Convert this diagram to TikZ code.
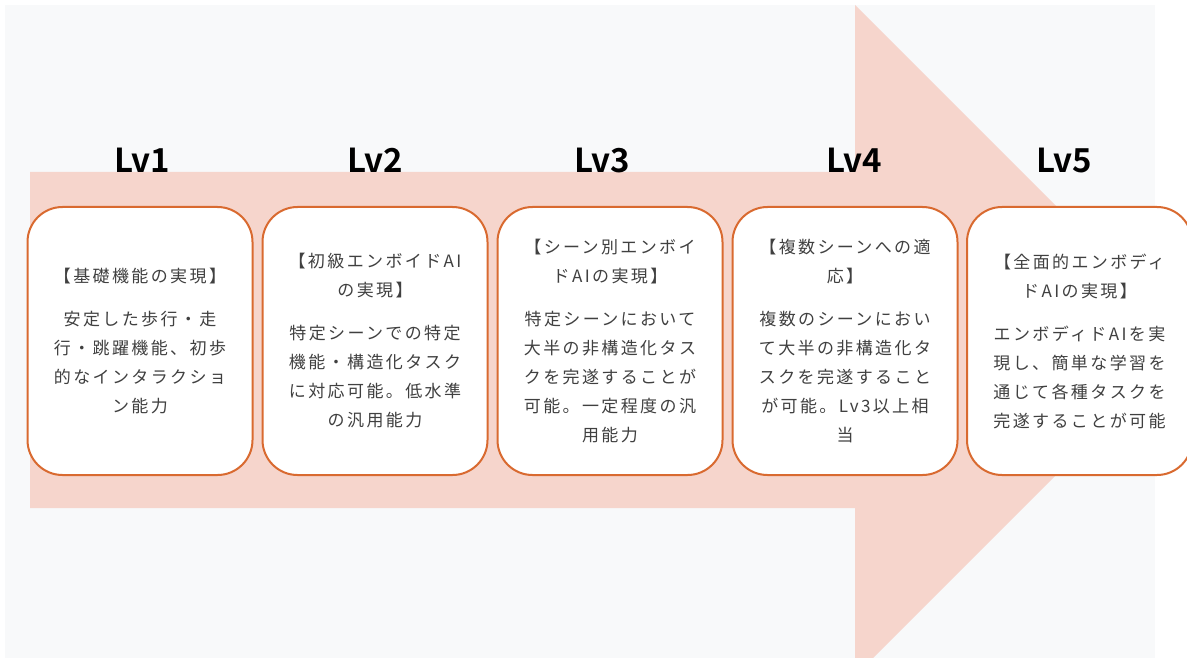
\documentclass[tikz,border=0pt]{standalone}
\usepackage{fontspec}
\setmainfont{Noto Sans CJK JP}[LetterSpace=14]
\newfontfamily\lvfont{Noto Sans CJK JP Bold}
\definecolor{bgpage}{RGB}{248,249,250}
\definecolor{arrowfill}{RGB}{246,213,204}
\definecolor{boxline}{RGB}{217,106,48}
\definecolor{bodytext}{RGB}{64,64,64}
\tikzset{lvbox/.style = {draw=boxline, line width=2pt, fill=white, rounded corners=35pt,
    minimum width=225pt, minimum height=268pt, inner sep=0pt, align=center,
    text=bodytext, font=\fontsize{17}{29}\selectfont},
  lvlabel/.style = {anchor=base, font=\lvfont\fontsize{33}{36}\selectfont}}

\begin{document}
\begin{tikzpicture}[x=1pt, y=-1pt]
      \useasboundingbox (0,0) rectangle (1187,658);
      \clip (0,0) rectangle (1187,658);
      \fill[bgpage] (5,5) rectangle (1155,658);
      % the big arrow behind the boxes
      \fill[arrowfill] (30,172) -- (855,172) -- (855,5) -- (1190.5,340.5)
        -- (855,676) -- (855,508) -- (30,508) -- cycle;
      \node[lvlabel] (lv1) at (142,173) {Lv1};
      \node[lvlabel] (lv2) at (375,173) {Lv2};
      \node[lvlabel] (lv3) at (602,173) {Lv3};
      \node[lvlabel] (lv4) at (854,173) {Lv4};
      \node[lvlabel] (lv5) at (1064,173) {Lv5};
      \node[lvbox] (b1) at (140,341) {【基礎機能の実現】\\[14pt]
        安定した歩行・走\\行・跳躍機能、初歩\\的なインタラクショ\\ン能力};
      \node[lvbox] (b2) at (375,341) {【初級エンボイドAI\\の実現】\\[14pt]
        特定シーンでの特定\\機能・構造化タスク\\に対応可能。低水準\\の汎用能力};
      \node[lvbox] (b3) at (610,341) {【シーン別エンボイ\\ドAIの実現】\\[14pt]
        特定シーンにおいて\\大半の非構造化タス\\クを完遂することが\\可能。一定程度の汎\\用能力};
      \node[lvbox] (b4) at (845,341) {【複数シーンへの適\\応】\\[14pt]
        複数のシーンにおい\\て大半の非構造化タ\\スクを完遂すること\\が可能。Lv3以上相\\当};
      \node[lvbox] (b5) at (1079.5,341) {【全面的エンボディ\\ドAIの実現】\\[14pt]
        エンボディドAIを実\\現し、簡単な学習を\\通じて各種タスクを\\完遂することが可能};
\end{tikzpicture}
\end{document}
